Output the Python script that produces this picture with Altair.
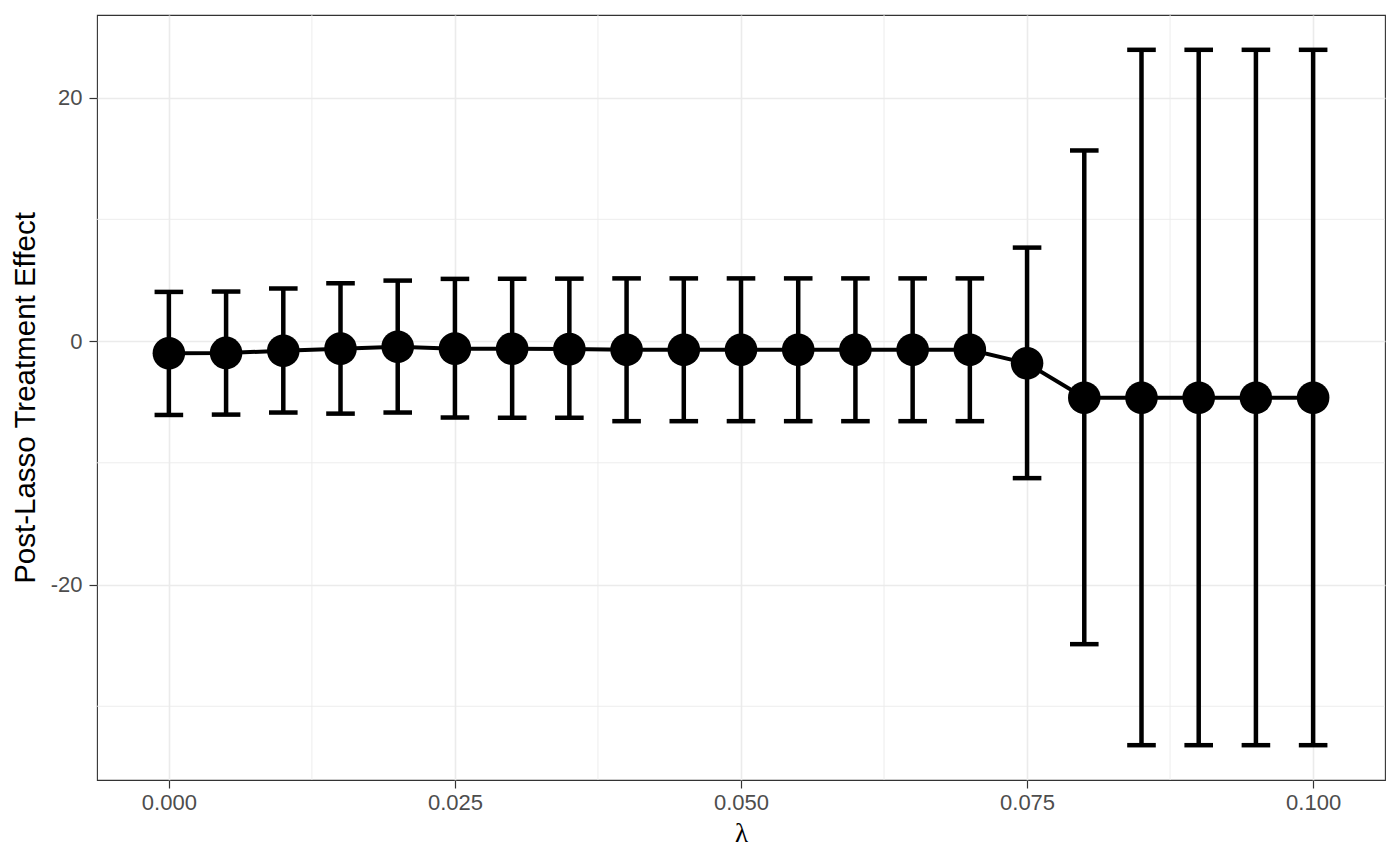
import altair as alt
import pandas as pd

# ---- data ----
lam = [0.000, 0.005, 0.010, 0.015, 0.020, 0.025, 0.030, 0.035, 0.040, 0.045,
       0.050, 0.055, 0.060, 0.065, 0.070, 0.075, 0.080, 0.085, 0.090, 0.095, 0.100]
est = [-1.00, -0.97, -0.80, -0.62, -0.46, -0.62, -0.63, -0.66, -0.72, -0.72,
       -0.72, -0.72, -0.72, -0.72, -0.72, -1.83, -4.65, -4.65, -4.65, -4.65, -4.65]
lo = [-6.07, -6.04, -5.87, -5.96, -5.87, -6.28, -6.30, -6.30, -6.58, -6.58,
      -6.58, -6.58, -6.58, -6.58, -6.58, -11.26, -24.90, -33.20, -33.20, -33.20, -33.20]
hi = [4.04, 4.07, 4.32, 4.75, 4.97, 5.11, 5.12, 5.13, 5.15, 5.15,
      5.15, 5.15, 5.15, 5.15, 5.15, 7.68, 15.66, 23.93, 23.93, 23.93, 23.93]
cap_half_width = 0.00125

x_major = [0.0, 0.025, 0.05, 0.075, 0.1]
x_minor = [0.0125, 0.0375, 0.0625, 0.0875]
y_major = [-20, 0, 20]
y_minor = [-30, -10, 10]
x_domain = [-0.006281, 0.106281]
y_domain = [-36.06, 26.79]

df = pd.DataFrame({"lam": lam, "est": est, "lo": lo, "hi": hi})

W, H = 1288, 765
GRID = "#ebebeb"
xs = alt.Scale(domain=x_domain, nice=False, zero=False)
ys = alt.Scale(domain=y_domain, nice=False, zero=False)

x_axis = alt.Axis(
    values=x_major, format=".3f", grid=True, gridColor=GRID, gridWidth=1.6,
    domain=False, tickColor="#333333", tickSize=8, tickWidth=1.2,
    labelColor="#4d4d4d", labelFont="Liberation Sans", labelFontSize=22, labelPadding=4,
    title="λ", titleFont="Liberation Serif", titleFontSize=27, titleFontWeight="normal",
    titleColor="black", titleX=W / 2, titleY=53, titleAlign="center", titleBaseline="middle",
)
y_axis = alt.Axis(
    values=y_major, labelExpr="'' + datum.value", grid=True, gridColor=GRID, gridWidth=1.6,
    domain=False, tickColor="#333333", tickSize=8, tickWidth=1.2,
    labelColor="#4d4d4d", labelFont="Liberation Sans", labelFontSize=22, labelPadding=7,
    title="Post-Lasso Treatment Effect", titleFont="Liberation Sans", titleFontSize=29.5,
    titleFontWeight="normal", titleColor="black", titleAngle=-90,
    titleX=-72, titleY=H / 2, titleAlign="center", titleBaseline="middle",
)

minor_x = alt.Chart(pd.DataFrame({"v": x_minor})).mark_rule(color=GRID, strokeWidth=0.9).encode(
    x=alt.X("v:Q", scale=xs, axis=x_axis)
)
minor_y = alt.Chart(pd.DataFrame({"v": y_minor})).mark_rule(color=GRID, strokeWidth=0.9).encode(
    y=alt.Y("v:Q", scale=ys, axis=y_axis)
)

base = alt.Chart(df)

bars = base.mark_rule(color="black", strokeWidth=4.5).encode(
    x=alt.X("lam:Q", scale=xs, axis=x_axis),
    y=alt.Y("lo:Q", scale=ys, axis=y_axis),
    y2="hi:Q",
)

caps_df = base.transform_calculate(
    xl=f"datum.lam - {cap_half_width}", xr=f"datum.lam + {cap_half_width}"
)
cap_hi = caps_df.mark_rule(color="black", strokeWidth=4.5).encode(
    x=alt.X("xl:Q", scale=xs, axis=x_axis), x2="xr:Q",
    y=alt.Y("hi:Q", scale=ys, axis=y_axis),
)
cap_lo = caps_df.mark_rule(color="black", strokeWidth=4.5).encode(
    x=alt.X("xl:Q", scale=xs, axis=x_axis), x2="xr:Q",
    y=alt.Y("lo:Q", scale=ys, axis=y_axis),
)

line = base.mark_line(color="black", strokeWidth=4).encode(
    x=alt.X("lam:Q", scale=xs, axis=x_axis),
    y=alt.Y("est:Q", scale=ys, axis=y_axis),
)
points = base.mark_circle(color="black", opacity=1, size=1060).encode(
    x=alt.X("lam:Q", scale=xs, axis=x_axis),
    y=alt.Y("est:Q", scale=ys, axis=y_axis),
)

chart = alt.layer(minor_x, minor_y, bars, cap_hi, cap_lo, line, points).properties(
    width=W, height=H,
    autosize=alt.AutoSizeParams(type="none"),
    padding={"left": 89, "top": 7, "right": 7, "bottom": 82},
    background="white",
).configure_view(stroke="#333333", strokeWidth=1.1)

chart.save("out.html", embed_options={"renderer": "svg", "actions": False})
